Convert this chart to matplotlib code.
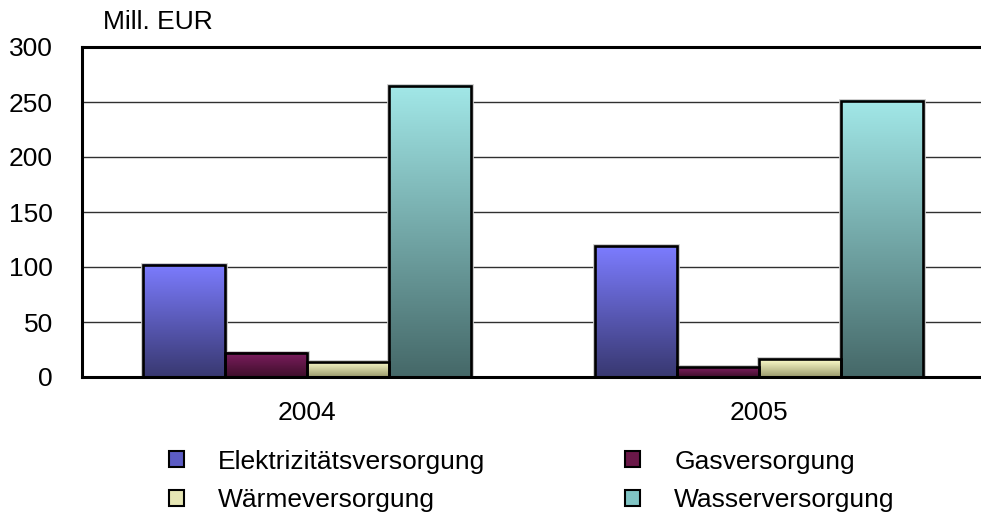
import numpy as np
import matplotlib
matplotlib.use("Agg")
import matplotlib.pyplot as plt
from matplotlib.colors import LinearSegmentedColormap
from matplotlib.patches import Patch

plt.rcParams['font.family'] = ['Liberation Sans', 'DejaVu Sans']

years = ["2004", "2005"]
series = ["Elektrizitätsversorgung", "Gasversorgung", "Wärmeversorgung", "Wasserversorgung"]
elektrizitaet = [102, 119]
gas = [22, 9]
waerme = [14, 16]
wasser = [265, 251]
values = [elektrizitaet, gas, waerme, wasser]

# gradient colours per series: (bottom, top), plus a solid colour for the legend
grad = [("#383870", "#7c7cff"),
        ("#3e0e2a", "#7e1e60"),
        ("#9a9a6c", "#ffffcc"),
        ("#456868", "#a2e8e8")]
legend_cols = ["#5c5cc4", "#6a1848", "#e6e6b4", "#80c4c4"]

W, H = 981, 518
FS = 19
fig = plt.figure(figsize=(W / 100, H / 100), dpi=100)
ax = fig.add_axes([82 / W, 1 - 377 / H, (W - 82) / W, 330 / H])

bw = 0.1814
x = np.arange(len(years))
g = np.linspace(0, 1, 256).reshape(-1, 1)

for i, (vals, (c0, c1)) in enumerate(zip(values, grad)):
    cmap = LinearSegmentedColormap.from_list("g%d" % i, [c0, c1])
    pos = x + (i - 1.5) * bw
    # faint grey halo outside, then black outline
    ax.bar(pos, vals, bw, facecolor="none", edgecolor="#c8c8c8", linewidth=3.4, zorder=1.5)
    bars = ax.bar(pos, vals, bw, facecolor="none", edgecolor="black", linewidth=1.9, zorder=4)
    for b in bars:
        x0, y0 = b.get_x(), b.get_y()
        ax.imshow(g, cmap=cmap, origin="lower", aspect="auto", interpolation="bicubic",
                  extent=[x0, x0 + b.get_width(), y0, y0 + b.get_height()], zorder=2)

ax.set_xlim(-0.498, 1.491)
ax.set_ylim(0, 300)
ax.set_yticks(range(0, 301, 50))
ax.set_xticks(x)
ax.set_xticklabels(years)
ax.tick_params(axis="both", length=0, labelsize=FS)
ax.tick_params(axis="y", pad=21)
ax.tick_params(axis="x", pad=17)
ax.yaxis.grid(True, color="#303030", linewidth=1.0)
ax.set_axisbelow(True)
for s in ["left", "top", "bottom"]:
    ax.spines[s].set_linewidth(2.2)
    ax.spines[s].set_color("black")
ax.spines["right"].set_visible(False)

fig.text(103 / W, 1 - 22 / H, "Mill. EUR", fontsize=FS, va="center", ha="left")

# legend fills column-wise, reorder so rows read E, G / W, Wa
order = [0, 2, 1, 3]
handles = [Patch(facecolor=legend_cols[k], edgecolor="black", linewidth=1.5) for k in order]
labels = [series[k] for k in order]
fig.legend(handles, labels, ncol=2, loc="center", bbox_to_anchor=(532 / W, 1 - 481 / H),
           frameon=False, fontsize=FS, handlelength=0.55, handleheight=0.55,
           handletextpad=1.3, columnspacing=5.3, labelspacing=0.55)

fig.savefig("out.png", dpi=100)
